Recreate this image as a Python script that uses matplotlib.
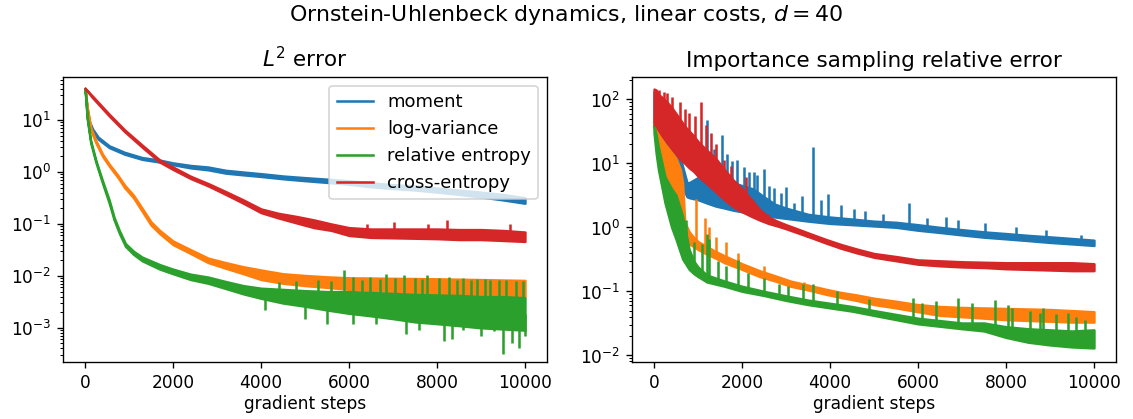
import numpy as np
import matplotlib
matplotlib.use("Agg")
import matplotlib.pyplot as plt
from matplotlib.lines import Line2D

# ---------------- data ----------------
labels = ["moment", "log-variance", "relative entropy", "cross-entropy"]
colors = ["#1f77b4", "#ff7f0e", "#2ca02c", "#d62728"]

# ----- left panel: L2 error (low / high envelope of the noisy curves)
l_mom_x = [0, 50, 100, 170, 300, 550, 900, 1300, 1700, 2000, 2400, 2800, 3200, 3600, 4000,
           4500, 5000, 5500, 6000, 6500, 7000, 7500, 8000, 8500, 9000, 9500, 10000]
l_mom_lo = [41, 14, 8.5, 6.2, 4.3, 2.95, 2.2, 1.75, 1.55, 1.38, 1.2, 1.1, 0.95, 0.88, 0.82,
            0.74, 0.68, 0.63, 0.58, 0.52, 0.48, 0.45, 0.41, 0.37, 0.33, 0.29, 0.25]
l_mom_hi = [41, 16, 9.5, 6.8, 4.7, 3.2, 2.4, 1.9, 1.7, 1.5, 1.34, 1.25, 1.08, 1.0, 0.93,
            0.84, 0.78, 0.73, 0.68, 0.62, 0.57, 0.54, 0.49, 0.45, 0.41, 0.37, 0.32]

l_lv_x = [0, 50, 130, 250, 400, 550, 750, 900, 1100, 1300, 1500, 1700, 2000, 2400, 2800,
          3200, 3600, 4000, 4500, 5000, 5500, 6000, 7000, 8000, 9000, 10000]
l_lv_lo = [41, 16, 6.5, 3.6, 2.0, 1.3, 0.78, 0.5, 0.32, 0.175, 0.095, 0.065, 0.04, 0.027,
           0.018, 0.014, 0.011, 0.0085, 0.0072, 0.0065, 0.006, 0.0055, 0.005, 0.0045, 0.0042, 0.004]
l_lv_hi = [41, 18, 7.2, 4.0, 2.2, 1.42, 0.86, 0.56, 0.36, 0.2, 0.11, 0.075, 0.047, 0.032,
           0.022, 0.018, 0.015, 0.013, 0.011, 0.0102, 0.0096, 0.0092, 0.009, 0.0088, 0.0085, 0.0082]

l_re_x = [0, 50, 130, 250, 400, 550, 660, 780, 920, 1100, 1300, 1700, 2000, 2400, 2800, 3200,
          3600, 4000, 4500, 5000, 5500, 6000, 6500, 7000, 7500, 8000, 8500, 9000, 9500, 10000]
l_re_lo = [41, 10.5, 3.6, 1.5, 0.6, 0.25, 0.12, 0.066, 0.037, 0.026, 0.0195, 0.0135, 0.011,
           0.0085, 0.0072, 0.0057, 0.0045, 0.0037, 0.003, 0.0026, 0.0022, 0.0019, 0.0017,
           0.0015, 0.0013, 0.0012, 0.0011, 0.001, 0.00095, 0.0009]
l_re_hi = [41, 11.5, 4.0, 1.65, 0.67, 0.29, 0.135, 0.075, 0.042, 0.03, 0.023, 0.0165, 0.0135,
           0.0108, 0.0095, 0.0078, 0.0065, 0.0058, 0.0055, 0.0052, 0.005, 0.005, 0.0048,
           0.0046, 0.0044, 0.0043, 0.0042, 0.004, 0.004, 0.0038]
l_re_spk_x = [4400, 4800, 5300, 5600, 5877, 6080, 6300, 6485, 6700, 6851, 7050, 7256, 7500, 7650,
              7784, 8050, 8271, 8450, 8600, 8780, 8920, 9100, 9200, 9400, 9570, 9800, 9950,
              4100, 5000, 5500, 6080, 6607, 7297, 7600, 8150, 8352, 8596, 9002, 9286, 9489,
              9700, 9854, 9990]
l_re_spk_y = [0.0075, 0.0078, 0.0085, 0.008, 0.0129, 0.0095, 0.0085, 0.0096, 0.0088, 0.011,
              0.009, 0.0103, 0.009, 0.0088, 0.0103, 0.009, 0.0096, 0.0085, 0.009, 0.0085, 0.0089,
              0.0086, 0.0085, 0.0083, 0.0082, 0.008, 0.0078,
              0.0022, 0.0015, 0.0012, 0.0012, 0.0012, 0.00076, 0.0009, 0.00056, 0.0006, 0.0009,
              0.0007, 0.00085, 0.00032, 0.0005, 0.0004, 0.0007]

l_ce_x = [0, 170, 550, 900, 1300, 1700, 2000, 2400, 2800, 3200, 3600, 4000, 4400, 4800, 5200,
          5600, 6000, 6500, 7000, 7500, 8000, 8500, 9000, 9500, 10000]
l_ce_lo = [41, 27, 12, 6, 3, 1.55, 1.12, 0.75, 0.54, 0.37, 0.25, 0.165, 0.13, 0.105, 0.085,
           0.075, 0.06, 0.055, 0.054, 0.053, 0.052, 0.05, 0.05, 0.048, 0.046]
l_ce_hi = [41, 29, 13, 6.5, 3.3, 1.7, 1.25, 0.83, 0.6, 0.42, 0.29, 0.195, 0.16, 0.14, 0.12,
           0.1, 0.085, 0.08, 0.08, 0.08, 0.08, 0.078, 0.078, 0.075, 0.07]
l_ce_spk_x = [4984, 7013, 8231, 9651, 6400, 7800]
l_ce_spk_y = [0.13, 0.11, 0.12, 0.1, 0.1, 0.1]

# ----- right panel: importance sampling relative error
r_mom_x = [0, 200, 400, 600, 750, 800, 1000, 1200, 1400, 1600, 1800, 2000, 2250, 2500, 2750,
           3000, 3500, 4000, 4500, 5000, 5500, 6000, 6500, 7000, 7500, 8000, 8500, 9000, 9500,
           10000]
r_mom_lo = [45, 20, 9, 5, 3.0, 2.9, 2.7, 2.4, 2.15, 2.0, 1.85, 1.75, 1.6, 1.5, 1.45, 1.38,
            1.25, 1.15, 1.1, 1.05, 1.0, 0.9, 0.83, 0.76, 0.7, 0.66, 0.62, 0.58, 0.55, 0.52]
r_mom_hi = [130, 60, 25, 12, 5, 5, 6, 8, 7, 6, 5, 4.5, 4, 3, 2.3, 2.0, 1.6, 1.45, 1.35,
            1.25, 1.2, 1.1, 1.0, 0.92, 0.85, 0.8, 0.75, 0.71, 0.67, 0.63]
r_mom_spk_x = [1199, 1366, 1541, 1650, 1784, 1897, 2049, 2163, 2277, 2350, 2505, 2620, 2732, 2884,
               3000, 3188, 3355, 3620, 3795, 3962, 4250, 4550, 4800, 5200, 5806, 6212, 6629, 6900,
               7530, 8220, 8900, 9700]
r_mom_spk_y = [48, 17, 28, 14, 10.7, 11.3, 8.9, 7.4, 7.4, 6.5, 8.1, 4.5, 4.1, 3.4, 4.3, 2.4, 3.1,
               17.8, 2.7, 3.3, 2.2, 1.9, 1.8, 1.6, 2.37, 1.4, 1.45, 1.3, 1.15, 1.0, 0.9, 0.75]

r_lv_x = [0, 100, 250, 400, 500, 600, 650, 700, 800, 900, 1000, 1200, 1400, 1600, 2000, 2400,
          2750, 3100, 3500, 3900, 4250, 4600, 5000, 5500, 6000, 6500, 7000, 7500, 8000, 8500,
          9000, 9500, 10000]
r_lv_lo = [35, 18, 6, 3, 1.8, 0.9, 0.75, 0.6, 0.55, 0.5, 0.45, 0.38, 0.33, 0.28, 0.22, 0.17,
           0.145, 0.12, 0.105, 0.09, 0.08, 0.072, 0.062, 0.055, 0.048, 0.042, 0.04, 0.038,
           0.036, 0.035, 0.034, 0.033, 0.033]
r_lv_hi = [55, 30, 20, 15, 12, 8, 5, 1.2, 0.85, 0.7, 0.6, 0.5, 0.42, 0.36, 0.27, 0.21, 0.175,
           0.145, 0.125, 0.108, 0.096, 0.088, 0.078, 0.07, 0.062, 0.058, 0.056, 0.055, 0.054,
           0.053, 0.052, 0.05, 0.048]
r_lv_spk_x = [950, 1154, 1250, 1404, 1647, 1900, 2500, 3400]
r_lv_spk_y = [2.8, 1.4, 1.0, 0.7, 0.6, 0.4, 0.25, 0.14]

r_re_x = [0, 50, 100, 250, 400, 500, 650, 800, 900, 1000, 1200, 1600, 2000, 2500, 3000, 3500,
          4000, 4500, 5000, 6000, 7000, 7500, 8000, 8500, 9000, 9500, 10000]
r_re_lo = [30, 14, 8, 2.4, 1.0, 0.65, 0.32, 0.22, 0.19, 0.17, 0.14, 0.12, 0.10, 0.086, 0.072,
           0.062, 0.055, 0.049, 0.042, 0.031, 0.026, 0.024, 0.019, 0.016, 0.0145, 0.0135, 0.013]
r_re_hi = [40, 28, 18, 6.2, 4.0, 3.2, 1.5, 0.45, 0.3, 0.24, 0.18, 0.145, 0.12, 0.1, 0.085,
           0.073, 0.065, 0.058, 0.05, 0.038, 0.032, 0.032, 0.028, 0.026, 0.025, 0.024, 0.025]
r_re_spk_x = [736, 917, 1100, 1200, 1260, 1450, 1632, 1920, 2125, 2505, 2850, 3050, 3380, 3620,
              4150, 4896, 5882, 6100, 6414, 6907, 7226, 7750, 8045, 8144, 8540, 8766, 8841,
              9129, 9400, 9600, 9800]
r_re_spk_y = [1.3, 0.6, 0.55, 0.8, 0.65, 0.3, 0.25, 0.31, 0.19, 0.16, 0.13, 0.12, 0.13, 0.13,
              0.1, 0.075, 0.08, 0.065, 0.07, 0.08, 0.066, 0.074, 0.06, 0.055, 0.05, 0.045,
              0.055, 0.044, 0.045, 0.04, 0.035]

r_ce_x = [0, 50, 100, 200, 300, 400, 500, 600, 700, 800, 900, 1000, 1200, 1400, 1600, 1800,
          2000, 2200, 2400, 2600, 2800, 3000, 3200, 3500, 3900, 4250, 4600, 5000, 5500, 6000,
          6500, 7000, 7500, 8000, 8500, 9000, 9500, 10000]
r_ce_lo = [42, 38, 33, 26, 21, 17, 14, 11.5, 10, 8.5, 7.5, 6.3, 4.8, 3.6, 2.7, 2.1, 1.75, 1.5,
           1.3, 1.15, 1.05, 0.95, 0.85, 0.72, 0.57, 0.47, 0.4, 0.34, 0.3, 0.265, 0.25, 0.24,
           0.235, 0.225, 0.22, 0.215, 0.21, 0.21]
r_ce_hi = [145, 140, 120, 105, 90, 75, 60, 48, 38, 32, 27, 22, 16, 12, 8, 5.5, 4.0, 2.8, 1.9,
           1.45, 1.25, 1.1, 0.98, 0.82, 0.65, 0.54, 0.46, 0.39, 0.35, 0.31, 0.3, 0.29, 0.285,
           0.28, 0.28, 0.28, 0.28, 0.27]
r_ce_spk_x = [120, 220, 300, 420, 592, 700, 797, 930, 1078, 1180, 1290, 1420, 1594, 1750, 1897,
              2087, 2277, 2600, 3150, 3480]
r_ce_spk_y = [140, 130, 124, 110, 92, 70, 62, 55, 92, 40, 29.5, 20, 11.2, 9, 4.9, 6.2, 2.4,
              1.6, 0.88, 0.7]

left_series = [
    (l_mom_x, l_mom_lo, l_mom_hi, [], []),
    (l_lv_x, l_lv_lo, l_lv_hi, [], []),
    (l_re_x, l_re_lo, l_re_hi, l_re_spk_x, l_re_spk_y),
    (l_ce_x, l_ce_lo, l_ce_hi, l_ce_spk_x, l_ce_spk_y),
]
right_series = [
    (r_mom_x, r_mom_lo, r_mom_hi, r_mom_spk_x, r_mom_spk_y),
    (r_lv_x, r_lv_lo, r_lv_hi, r_lv_spk_x, r_lv_spk_y),
    (r_re_x, r_re_lo, r_re_hi, r_re_spk_x, r_re_spk_y),
    (r_ce_x, r_ce_lo, r_ce_hi, r_ce_spk_x, r_ce_spk_y),
]

# ---------------- figure ----------------
DPI = 122
fig = plt.figure(figsize=(1133 / DPI, 419.2 / DPI), dpi=DPI)
W, H = 1133, 419
axL = fig.add_axes([63 / W, 57 / H, 484 / W, 285 / H])
axR = fig.add_axes([632 / W, 57 / H, 484 / W, 285 / H])


def draw(ax, series):
    for i, (x, lo, hi, sx, sy) in enumerate(series):
        c = colors[i]
        z = 2 + i * 0.1
        x = np.asarray(x, float)
        lo = np.asarray(lo, float)
        hi = np.asarray(hi, float)
        ax.fill_between(x, lo, hi, color=c, lw=1.4, edgecolor=c, zorder=z)
        if len(sx):
            sx = np.asarray(sx, float)
            sy = np.asarray(sy, float)
            mid = np.sqrt(lo * hi)
            base = 10 ** np.interp(sx, x, np.log10(mid))
            ax.vlines(sx, base, sy, color=c, lw=1.5, zorder=z)
    ax.set_yscale("log")
    ax.set_xlim(-500, 10500)
    ax.set_xticks([0, 2000, 4000, 6000, 8000, 10000])
    ax.set_xlabel("gradient steps", labelpad=2)


draw(axL, left_series)
draw(axR, right_series)
axL.set_ylim(2.2e-4, 68)
axR.set_ylim(0.00786, 225)

axL.set_title("$L^2$ error", fontsize=12.7)
axR.set_title("Importance sampling relative error", fontsize=12.7)
fig.suptitle("Ornstein-Uhlenbeck dynamics, linear costs, $d=40$", y=0.965, va="center",
             fontsize=13)

handles = [Line2D([], [], color=c, lw=1.5) for c in colors]
axL.legend(handles, labels, loc="upper right", fontsize=10.6)

fig.savefig("out.png", dpi=DPI)
